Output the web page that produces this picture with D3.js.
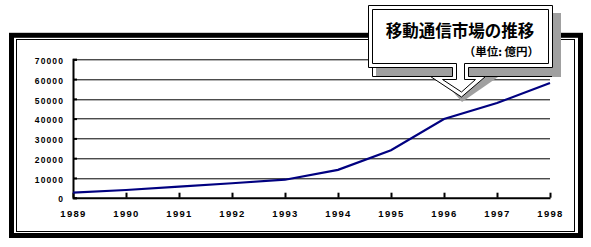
<!DOCTYPE html>
<html>
<head>
<meta charset="utf-8">
<script src="https://cdn.jsdelivr.net/npm/d3@7"></script>
<style>
  html, body { margin: 0; padding: 0; background: #fff; }
  svg { display: block; }
  .tick text { font-family: "Liberation Sans", Arial, sans-serif; font-weight: bold; fill: #000; }
</style>
</head>
<body>
<svg id="chart"></svg>
<script>
// data (億円)
const years = ["1989", "1990", "1991", "1992", "1993", "1994", "1995", "1996", "1997", "1998"]
const marketSize = [2600, 3900, 5600, 7300, 9100, 14100, 24000, 39800, 47900, 58000]
const yTicks = [0, 10000, 20000, 30000, 40000, 50000, 60000, 70000]
const titleText = "移動通信市場の推移"
const unitText = "（単位: 億円）"

const drawChart = () => {
  const dimensions = {
    width: 591,
    height: 247,
    margin: { top: 59.3, left: 73, right: 41, bottom: 49.3 },
  }
  dimensions.boundedWidth = dimensions.width - dimensions.margin.left - dimensions.margin.right
  dimensions.boundedHeight = dimensions.height - dimensions.margin.top - dimensions.margin.bottom

  const wrapper = d3.select("#chart")
    .attr("width", dimensions.width)
    .attr("height", dimensions.height)

  // outer frame: thick border with a thin inner line
  wrapper.append("rect")
    .attr("x", 11.5).attr("y", 35.3)
    .attr("width", 569).attr("height", 200.2)
    .attr("fill", "none").attr("stroke", "#000").attr("stroke-width", 5)
  wrapper.append("rect")
    .attr("x", 16.5).attr("y", 39.5)
    .attr("width", 558).attr("height", 192)
    .attr("fill", "#fff").attr("stroke", "#000").attr("stroke-width", 1)

  const bounds = wrapper.append("g")
    .attr("transform", `translate(${dimensions.margin.left}, ${dimensions.margin.top})`)

  // scales
  const xScale = d3.scalePoint()
    .domain(years)
    .range([0, dimensions.boundedWidth])

  const yScale = d3.scaleLinear()
    .domain([0, 70000])
    .range([dimensions.boundedHeight, 0])

  // gridlines
  bounds.append("g")
    .selectAll("line")
    .data(yTicks.slice(1))
    .join("line")
    .attr("x1", 0)
    .attr("x2", dimensions.boundedWidth)
    .attr("y1", (d) => Math.round(yScale(d)) + 0.5)
    .attr("y2", (d) => Math.round(yScale(d)) + 0.5)
    .attr("stroke", "#000")
    .attr("stroke-width", 1)

  // y axis
  const yAxis = bounds.append("g")
    .call(d3.axisLeft(yScale).tickValues(yTicks).tickSize(-4).tickPadding(9).tickFormat(d3.format("d")))
  yAxis.select(".domain").attr("stroke-width", 2)
  yAxis.selectAll(".tick line").attr("stroke-width", 2)
  yAxis.selectAll(".tick text")
    .attr("font-size", 8.5)
    .attr("letter-spacing", 1.1)
    .attr("dy", "0.5em")

  // x axis, ticks point up into the plot
  const xAxis = bounds.append("g")
    .attr("transform", `translate(0, ${dimensions.boundedHeight})`)
    .call(d3.axisBottom(xScale).tickSizeInner(-5).tickSizeOuter(0).tickPadding(13))
  xAxis.select(".domain").attr("stroke-width", 2)
  xAxis.selectAll(".tick line").attr("stroke-width", 2)
  xAxis.selectAll(".tick text")
    .attr("font-size", 9.5)
    .attr("letter-spacing", 1.3)

  // data line
  const lineGenerator = d3.line()
    .x((d, i) => xScale(years[i]))
    .y((d) => yScale(d))

  bounds.append("path")
    .attr("d", lineGenerator(marketSize))
    .attr("fill", "none")
    .attr("stroke", "#000080")
    .attr("stroke-width", 2.2)

  // callout with shadow
  const callout = wrapper.append("g")
  const shadow = "#a0a0a0"
  callout.append("rect")
    .attr("x", 376).attr("y", 13).attr("width", 185).attr("height", 64)
    .attr("fill", shadow)
  callout.append("path")
    .attr("d", "M440,77 L462,102 L498,77 Z")
    .attr("fill", shadow)
  // outline of the strips below the box
  callout.append("path")
    .attr("d", "M372.5,66.5 V76.5 H452.5 V66.5 M468.5,66.5 V76.5 H552")
    .attr("fill", "none").attr("stroke", "#000")

  // box + arrow, outer outline
  callout.append("path")
    .attr("d", "M368.5,5.5 H552.5 V67.5 H468.5 V76.5 H485.5 L461.5,97 L430.5,76.5 H452.5 V67.5 H368.5 Z")
    .attr("fill", "#fff").attr("stroke", "#000")
  // inner outline
  callout.append("path")
    .attr("d", "M372.5,9.5 H548.5 V63.5 H464.5 V79.5 H475.5 L461.5,92 L442.5,79.5 H456.5 V63.5 H372.5 Z")
    .attr("fill", "none").attr("stroke", "#000")

  callout.append("text")
    .attr("x", 460).attr("y", 36.5)
    .attr("text-anchor", "middle")
    .attr("font-family", "'Noto Sans CJK JP', sans-serif")
    .attr("font-weight", "bold")
    .attr("font-size", 16.5)
    .text(titleText)

  callout.append("text")
    .attr("x", 539).attr("y", 56)
    .attr("text-anchor", "end")
    .attr("font-family", "'Noto Sans CJK JP', sans-serif")
    .attr("font-weight", "bold")
    .attr("font-size", 11.5)
    .text(unitText)
}

drawChart()
</script>
</body>
</html>
